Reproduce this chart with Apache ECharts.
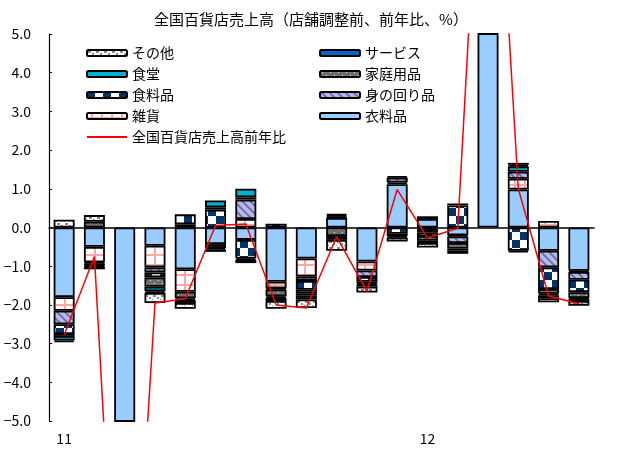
<!DOCTYPE html>
<html>
<head>
<meta charset="utf-8">
<script src="https://cdn.jsdelivr.net/npm/echarts@6/dist/echarts.min.js"></script>
<style>
html,body{margin:0;padding:0;background:#fff;}
#c{width:622px;height:450px;}
</style>
</head>
<body>
<div id="c"></div>
<script>
// ---- data ----
const categories = ['2011/01','2011/02','2011/03','2011/04','2011/05','2011/06','2011/07','2011/08','2011/09','2011/10','2011/11','2011/12','2012/01','2012/02','2012/03','2012/04','2012/05','2012/06'];
const tickLabels = ['11','','','','','','','','','','','','12','','','','',''];
const yTicks = [-5, -4, -3, -2, -1, 0, 1, 2, 3, 4, 5];

const clothing   = [-1.80, -0.50, -6.00, -0.47, -1.08, -0.43, -0.32, -1.40, -0.80,  0.25, -0.88,  1.12,  0.22, -0.20, 7.00,  0.98, -0.60, -1.12]; // 衣料品
const misc       = [-0.35, -0.40, -2.00, -0.56, -0.58, -0.05,  0.22, -0.17, -0.47,  0.03, -0.23,  0.04, -0.04, -0.03, 2.00,  0.28,  0.17, -0.03]; // 雑貨
const personal   = [-0.35, -0.03, -2.20, -0.13,  0.08, -0.05,  0.50, -0.03, -0.11,  0.04, -0.17,  0.13, -0.08, -0.17, 2.00,  0.18, -0.43, -0.20]; // 身の回り品
const food       = [-0.25, -0.05, -2.50, -0.13,  0.26,  0.46, -0.48,  0.10, -0.23,  0.03, -0.12, -0.16, -0.10,  0.57, 1.50, -0.60, -0.56, -0.32]; // 食料品
const household  = [-0.05,  0.15, -1.20, -0.24, -0.17,  0.06,  0.06, -0.18, -0.10, -0.22, -0.05, -0.06, -0.12, -0.15, 1.00, -0.04, -0.12, -0.15]; // 家庭用品
const dining     = [-0.12, -0.03, -0.30, -0.12, -0.04,  0.18,  0.22, -0.04, -0.05, -0.05, -0.03,  0.04,  0.07,  0.05, 0.20,  0.14, -0.04, -0.03]; // 食堂
const service    = [-0.04, -0.07, -0.20, -0.04, -0.08, -0.04, -0.04, -0.08, -0.10, -0.05, -0.05, -0.04, -0.06, -0.05, 0.10,  0.04, -0.08, -0.05]; // サービス
const others     = [ 0.20,  0.17, -0.40, -0.26, -0.15, -0.06, -0.08, -0.20, -0.22, -0.28, -0.15, -0.10, -0.12, -0.08, 0.30,  0.05, -0.10, -0.12]; // その他
const totalYoY   = [-2.78, -0.75, -14.7, -1.95, -1.84,  0.05,  0.09, -2.00, -2.08, -0.24, -1.65,  0.98, -0.27, -0.02, 14.1,  1.00, -1.77, -1.97]; // 全国百貨店売上高前年比

// ---- patterns ----
function pattern(w, h, draw) {
  const c = document.createElement('canvas');
  c.width = w; c.height = h;
  const g = c.getContext('2d');
  draw(g, w, h);
  return { image: c, repeat: 'repeat' };
}
const patOthers = pattern(8, 6, (g) => {
  g.fillStyle = '#fff'; g.fillRect(0, 0, 8, 6);
  g.fillStyle = '#8c8c8c';
  g.fillRect(1, 1, 3, 2); g.fillRect(5, 3, 2, 2); g.fillRect(0, 5, 1, 1);
});
const patHousehold = pattern(8, 6, (g) => {
  g.fillStyle = '#707070'; g.fillRect(0, 0, 8, 6);
  g.fillStyle = '#e0e0e0';
  g.fillRect(2, 1, 1, 1); g.fillRect(6, 4, 1, 1);
});
const patFood = pattern(16, 16, (g) => {
  g.fillStyle = '#fff'; g.fillRect(0, 0, 16, 16);
  g.fillStyle = '#003366';
  g.fillRect(0, 0, 8, 8); g.fillRect(8, 8, 8, 8);
});
const patPersonal = pattern(8, 8, (g) => {
  g.fillStyle = '#b9b9e8'; g.fillRect(0, 0, 8, 8);
  g.fillStyle = '#7676b6';
  for (let y = 0; y < 8; y++) for (let x = 0; x < 8; x++) {
    if (((x - y + 16) % 8) < 3) g.fillRect(x, y, 1, 1);
  }
});
const patMisc = pattern(10, 10, (g) => {
  g.fillStyle = '#fff'; g.fillRect(0, 0, 10, 10);
  g.fillStyle = '#ffa8a8';
  g.fillRect(4, 0, 2, 10); g.fillRect(0, 4, 10, 2);
});

const FONT = "'Noto Sans CJK JP', 'Noto Sans', sans-serif";
const chart = echarts.init(document.getElementById('c'), null, { renderer: 'canvas' });

function barSeries(name, data, color) {
  return {
    name: name, type: 'bar', stack: 'total', data: data,
    barWidth: 21,
    itemStyle: { color: color, borderColor: '#000', borderWidth: 1.8 },
    emphasis: { disabled: true }
  };
}

const legendText = { fontSize: 14, color: '#000', fontFamily: FONT };

const option = {
  animation: false,
  backgroundColor: '#fff',
  textStyle: { fontFamily: FONT },
  title: {
    text: '全国百貨店売上高（店舗調整前、前年比、%）',
    left: 'center', top: 7,
    textStyle: { fontSize: 15, fontWeight: 'normal', color: '#000', fontFamily: FONT }
  },
  legend: [
    {
      data: ['その他', '食堂', '食料品', '雑貨',
             { name: '全国百貨店売上高前年比', itemStyle: { opacity: 0 } }],
      orient: 'vertical', left: 81, top: 41, itemGap: 7,
      itemWidth: 40, itemHeight: 6,
      textStyle: legendText
    },
    {
      data: ['サービス', '家庭用品', '身の回り品', '衣料品'],
      orient: 'vertical', left: 314, top: 41, itemGap: 7,
      itemWidth: 40, itemHeight: 6,
      textStyle: legendText
    }
  ],
  grid: { left: 49, right: 28, top: 34, bottom: 29, containLabel: false },
  xAxis: [
    {
      type: 'category', data: categories,
      axisLine: { show: false, onZero: false },
      axisTick: { show: false },
      axisLabel: {
        interval: 0, margin: 11, fontSize: 14, color: '#000', fontFamily: FONT,
        formatter: (v, i) => tickLabels[i]
      }
    },
    {
      type: 'category', data: categories, position: 'bottom',
      axisLine: { show: true, onZero: true, lineStyle: { color: '#000', width: 1.5 } },
      axisTick: { show: false },
      axisLabel: { show: false }
    }
  ],
  yAxis: {
    type: 'value', min: yTicks[0], max: yTicks[yTicks.length - 1], interval: 1,
    axisLine: { show: true, lineStyle: { color: '#000', width: 1.2 } },
    axisTick: { show: true, inside: true, length: 3, lineStyle: { color: '#000' } },
    splitLine: { show: false },
    axisLabel: {
      margin: 18, fontSize: 14, color: '#000', fontFamily: FONT,
      formatter: (v) => (v < 0 ? '−' : '') + Math.abs(v).toFixed(1)
    }
  },
  series: [
    barSeries('衣料品', clothing, '#99ccff'),
    barSeries('雑貨', misc, patMisc),
    barSeries('身の回り品', personal, patPersonal),
    barSeries('食料品', food, patFood),
    barSeries('家庭用品', household, patHousehold),
    barSeries('食堂', dining, '#00b0cc'),
    barSeries('サービス', service, '#0a62c8'),
    barSeries('その他', others, patOthers),
    {
      name: '全国百貨店売上高前年比', type: 'line', data: totalYoY,
      symbol: 'none', showSymbol: false, clip: true, z: 5,
      lineStyle: { color: '#ff0000', width: 1.5 },
      itemStyle: { color: '#ff0000' },
      emphasis: { disabled: true }
    }
  ]
};
chart.setOption(option);
</script>
</body>
</html>
